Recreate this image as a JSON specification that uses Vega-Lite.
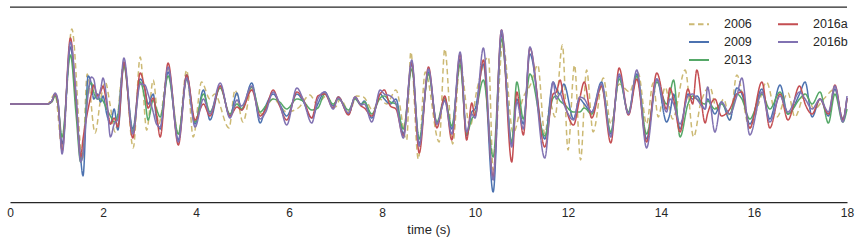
{
"$schema": "https://vega.github.io/schema/vega-lite/v6.json",
"width": 837, "height": 195,
"autosize": {"type": "none"},
"padding": {"left": 10, "top": 7, "right": 13, "bottom": 42},
"background": "white",
"config": {
  "view": {"stroke": null},
  "font": "Liberation Sans",
  "legend": {"orient": "none", "legendX": 678, "legendY": 6, "columns": 2, "symbolType": "stroke", "symbolSize": 400, "symbolStrokeWidth": 2, "labelFontSize": 12.5, "labelColor": "#262626", "labelOffset": 14, "rowPadding": -2, "columnPadding": 22, "padding": 0}
},
"datasets": {
"tan": [
{"t":0,"2006":0},{"t":0.8,"2006":0},{"t":0.97,"2006":10},{"t":1.12,"2006":-45},{"t":1.33,"2006":75},{"t":1.56,"2006":-56},{"t":1.66,"2006":30},{"t":1.83,"2006":-29},{"t":1.95,"2006":5},{"t":2.05,"2006":22},{"t":2.15,"2006":0},{"t":2.26,"2006":-28},{"t":2.45,"2006":42},{"t":2.65,"2006":-44},{"t":2.8,"2006":47},{"t":2.94,"2006":-26},{"t":3.08,"2006":24},{"t":3.2,"2006":-20},{"t":3.4,"2006":35},{"t":3.62,"2006":-30},{"t":3.8,"2006":34},{"t":3.94,"2006":-33},{"t":4.12,"2006":22},{"t":4.3,"2006":5},{"t":4.4,"2006":10},{"t":4.71,"2006":-24},{"t":4.84,"2006":14},{"t":5.01,"2006":-18},{"t":5.2,"2006":15},{"t":5.4,"2006":-10},{"t":5.66,"2006":5},{"t":5.95,"2006":-8},{"t":6.2,"2006":-4},{"t":6.45,"2006":9},{"t":6.6,"2006":0},{"t":6.8,"2006":8},{"t":7.0,"2006":-3},{"t":7.1,"2006":5},{"t":7.3,"2006":-8},{"t":7.45,"2006":8},{"t":7.6,"2006":7},{"t":7.8,"2006":-6},{"t":7.95,"2006":5},{"t":8.1,"2006":0},{"t":8.3,"2006":14},{"t":8.53,"2006":-36},{"t":8.62,"2006":52},{"t":8.78,"2006":-55},{"t":8.93,"2006":32},{"t":9.23,"2006":-38},{"t":9.35,"2006":55},{"t":9.52,"2006":-40},{"t":9.68,"2006":41},{"t":9.89,"2006":-23},{"t":10.04,"2006":14},{"t":10.29,"2006":47},{"t":10.39,"2006":-66},{"t":10.6,"2006":61},{"t":10.82,"2006":-29},{"t":11.04,"2006":7},{"t":11.2,"2006":20},{"t":11.35,"2006":39},{"t":11.5,"2006":-30},{"t":11.62,"2006":0},{"t":11.72,"2006":-13},{"t":11.88,"2006":59},{"t":12.0,"2006":-46},{"t":12.14,"2006":39},{"t":12.27,"2006":-56},{"t":12.4,"2006":34},{"t":12.54,"2006":-28},{"t":12.76,"2006":26},{"t":12.92,"2006":-20},{"t":13.1,"2006":20},{"t":13.33,"2006":12},{"t":13.4,"2006":20},{"t":13.51,"2006":31},{"t":13.69,"2006":-20},{"t":13.83,"2006":21},{"t":13.94,"2006":-13},{"t":14.09,"2006":17},{"t":14.25,"2006":-15},{"t":14.52,"2006":34},{"t":14.7,"2006":-33},{"t":14.85,"2006":0},{"t":15.05,"2006":17},{"t":15.2,"2006":-5},{"t":15.35,"2006":5},{"t":15.48,"2006":-16},{"t":15.63,"2006":29},{"t":15.91,"2006":-24},{"t":16.1,"2006":0},{"t":16.27,"2006":22},{"t":16.49,"2006":-13},{"t":16.73,"2006":11},{"t":16.88,"2006":-13},{"t":17.1,"2006":10},{"t":17.3,"2006":-5},{"t":17.5,"2006":5},{"t":17.74,"2006":15},{"t":17.91,"2006":-15},{"t":18.0,"2006":5}
],
"main": [
{"t":0,"2009":0,"2013":0,"2016a":0,"2016b":0},
{"t":0.8,"2009":0,"2013":0,"2016a":0,"2016b":0},
{"t":0.9,"2009":3,"2013":2,"2016a":3,"2016b":3},
{"t":0.97,"2009":10,"2013":8,"2016a":10,"2016b":11},
{"t":1.03,"2009":2,"2013":0,"2016a":2,"2016b":4},
{"t":1.12,"2009":-40,"2013":-33,"2016a":-47,"2016b":-50},
{"t":1.3,"2009":57,"2013":49,"2016a":66,"2016b":62},
{"t":1.42,"2009":0,"2013":-10,"2016a":5,"2016b":10},
{"t":1.52,"2009":-55,"2013":-58,"2016a":-53,"2016b":-58},
{"t":1.57,"2009":-72,"2013":-48,"2016a":-35,"2016b":-50},
{"t":1.68,"2009":28,"2013":15,"2016a":-5,"2016b":10},
{"t":1.75,"2009":20,"2013":21,"2016a":10,"2016b":27},
{"t":1.8,"2009":5,"2013":12,"2016a":19,"2016b":25},
{"t":1.88,"2009":10,"2013":5,"2016a":8,"2016b":5},
{"t":1.95,"2009":2,"2013":5,"2016a":12,"2016b":15},
{"t":2.0,"2009":8,"2013":3,"2016a":18,"2016b":26},
{"t":2.08,"2009":-10,"2013":-5,"2016a":0,"2016b":5},
{"t":2.16,"2009":-20,"2013":-12,"2016a":-20,"2016b":-33},
{"t":2.24,"2009":-5,"2013":-18,"2016a":-14,"2016b":-20},
{"t":2.32,"2009":-26,"2013":-10,"2016a":-23,"2016b":-15},
{"t":2.45,"2009":40,"2013":38,"2016a":42,"2016b":46},
{"t":2.64,"2009":-25,"2013":-28,"2016a":-34,"2016b":-30},
{"t":2.8,"2009":25,"2013":22,"2016a":31,"2016b":20},
{"t":2.9,"2009":15,"2013":5,"2016a":15,"2016b":19},
{"t":2.97,"2009":0,"2013":-16,"2016a":-4,"2016b":10},
{"t":3.08,"2009":10,"2013":4,"2016a":6,"2016b":-8},
{"t":3.15,"2009":-15,"2013":-5,"2016a":-10,"2016b":-20},
{"t":3.23,"2009":-25,"2013":-13,"2016a":-33,"2016b":-23},
{"t":3.4,"2009":32,"2013":28,"2016a":41,"2016b":37},
{"t":3.62,"2009":-36,"2013":-30,"2016a":-41,"2016b":-38},
{"t":3.8,"2009":29,"2013":25,"2016a":29,"2016b":26},
{"t":3.98,"2009":-20,"2013":-18,"2016a":-16,"2016b":-23},
{"t":4.16,"2009":14,"2013":10,"2016a":0,"2016b":5},
{"t":4.3,"2009":-16,"2013":-8,"2016a":-12,"2016b":-10},
{"t":4.52,"2009":18,"2013":16,"2016a":18,"2016b":21},
{"t":4.73,"2009":-12,"2013":-10,"2016a":-12,"2016b":-14},
{"t":4.88,"2009":11,"2013":0,"2016a":-3,"2016b":4},
{"t":4.98,"2009":-6,"2013":-5,"2016a":-6,"2016b":-2},
{"t":5.2,"2009":21,"2013":17,"2016a":14,"2016b":18},
{"t":5.38,"2009":-19,"2013":-8,"2016a":-12,"2016b":-15},
{"t":5.5,"2009":-2,"2013":-2,"2016a":-5,"2016b":-8},
{"t":5.66,"2009":10,"2013":5,"2016a":14,"2016b":12},
{"t":5.8,"2009":0,"2013":2,"2016a":-2,"2016b":0},
{"t":5.95,"2009":-12,"2013":-5,"2016a":-16,"2016b":-21},
{"t":6.17,"2009":10,"2013":5,"2016a":12,"2016b":16},
{"t":6.3,"2009":3,"2013":3,"2016a":5,"2016b":5},
{"t":6.49,"2009":-14,"2013":-6,"2016a":-14,"2016b":-19},
{"t":6.62,"2009":0,"2013":-4,"2016a":8,"2016b":5},
{"t":6.77,"2009":12,"2013":10,"2016a":10,"2016b":12},
{"t":6.95,"2009":-2,"2013":0,"2016a":-4,"2016b":-5},
{"t":7.06,"2009":7,"2013":5,"2016a":7,"2016b":6},
{"t":7.28,"2009":-10,"2013":-6,"2016a":-11,"2016b":-9},
{"t":7.42,"2009":6,"2013":5,"2016a":7,"2016b":7},
{"t":7.55,"2009":0,"2013":-1,"2016a":-2,"2016b":-1},
{"t":7.62,"2009":3,"2013":2,"2016a":-4,"2016b":0},
{"t":7.78,"2009":-14,"2013":-10,"2016a":-12,"2016b":-18},
{"t":7.96,"2009":10,"2013":6,"2016a":10,"2016b":14},
{"t":8.05,"2009":5,"2013":8,"2016a":14,"2016b":10},
{"t":8.18,"2009":0,"2013":2,"2016a":-2,"2016b":8},
{"t":8.3,"2009":5,"2013":0,"2016a":-5,"2016b":0},
{"t":8.46,"2009":-30,"2013":-25,"2016a":-32,"2016b":-34},
{"t":8.64,"2009":40,"2013":35,"2016a":42,"2016b":44},
{"t":8.8,"2009":-40,"2013":-35,"2016a":-49,"2016b":-42},
{"t":9.0,"2009":32,"2013":30,"2016a":37,"2016b":35},
{"t":9.18,"2009":-20,"2013":-18,"2016a":-24,"2016b":-20},
{"t":9.35,"2009":4,"2013":6,"2016a":8,"2016b":3},
{"t":9.5,"2009":-25,"2013":-22,"2016a":-36,"2016b":-30},
{"t":9.68,"2009":45,"2013":39,"2016a":50,"2016b":52},
{"t":9.82,"2009":-32,"2013":-30,"2016a":-36,"2016b":-28},
{"t":9.93,"2009":-8,"2013":-15,"2016a":1,"2016b":-10},
{"t":10.0,"2009":-5,"2013":-10,"2016a":-12,"2016b":-14},
{"t":10.18,"2009":40,"2013":24,"2016a":44,"2016b":56},
{"t":10.39,"2009":-88,"2013":-53,"2016a":-73,"2016b":-76},
{"t":10.57,"2009":70,"2013":65,"2016a":74,"2016b":74},
{"t":10.79,"2009":-40,"2013":-38,"2016a":-58,"2016b":-43},
{"t":10.9,"2009":5,"2013":22,"2016a":12,"2016b":2},
{"t":11.04,"2009":-20,"2013":-15,"2016a":-31,"2016b":-25},
{"t":11.18,"2009":50,"2013":30,"2016a":56,"2016b":57},
{"t":11.5,"2009":-35,"2013":-32,"2016a":-43,"2016b":-54},
{"t":11.68,"2009":22,"2013":6,"2016a":10,"2016b":22},
{"t":11.75,"2009":15,"2013":8,"2016a":12,"2016b":5},
{"t":11.83,"2009":10,"2013":3,"2016a":24,"2016b":10},
{"t":11.91,"2009":20,"2013":0,"2016a":5,"2016b":0},
{"t":12.12,"2009":-15,"2013":-8,"2016a":-21,"2016b":-16},
{"t":12.25,"2009":5,"2013":-8,"2016a":5,"2016b":7},
{"t":12.35,"2009":0,"2013":-4,"2016a":22,"2016b":5},
{"t":12.51,"2009":-8,"2013":-10,"2016a":-14,"2016b":-8},
{"t":12.72,"2009":22,"2013":18,"2016a":18,"2016b":20},
{"t":12.92,"2009":-30,"2013":-28,"2016a":-39,"2016b":-33},
{"t":13.1,"2009":28,"2013":25,"2016a":36,"2016b":30},
{"t":13.3,"2009":-10,"2013":-8,"2016a":-11,"2016b":-10},
{"t":13.48,"2009":30,"2013":28,"2016a":25,"2016b":34},
{"t":13.69,"2009":-35,"2013":-30,"2016a":-38,"2016b":-44},
{"t":13.91,"2009":25,"2013":22,"2016a":31,"2016b":25},
{"t":14.12,"2009":-18,"2013":0,"2016a":-5,"2016b":-8},
{"t":14.19,"2009":-10,"2013":10,"2016a":16,"2016b":5},
{"t":14.27,"2009":10,"2013":24,"2016a":5,"2016b":0},
{"t":14.41,"2009":-25,"2013":-33,"2016a":-28,"2016b":-20},
{"t":14.58,"2009":10,"2013":0,"2016a":15,"2016b":8},
{"t":14.68,"2009":5,"2013":8,"2016a":0,"2016b":10},
{"t":14.77,"2009":8,"2013":5,"2016a":34,"2016b":5},
{"t":14.95,"2009":-5,"2013":0,"2016a":-19,"2016b":-5},
{"t":15.0,"2009":5,"2013":3,"2016a":-10,"2016b":17},
{"t":15.16,"2009":-10,"2013":-5,"2016a":5,"2016b":-28},
{"t":15.3,"2009":2,"2013":0,"2016a":-12,"2016b":2},
{"t":15.48,"2009":-16,"2013":-10,"2016a":-5,"2016b":-10},
{"t":15.63,"2009":16,"2013":10,"2016a":10,"2016b":8},
{"t":15.74,"2009":10,"2013":5,"2016a":12,"2016b":26},
{"t":15.91,"2009":-20,"2013":-15,"2016a":-24,"2016b":-31},
{"t":16.17,"2009":15,"2013":10,"2016a":22,"2016b":12},
{"t":16.34,"2009":-15,"2013":-5,"2016a":-24,"2016b":-18},
{"t":16.56,"2009":19,"2013":12,"2016a":10,"2016b":8},
{"t":16.73,"2009":-10,"2013":-10,"2016a":-16,"2016b":-8},
{"t":16.98,"2009":10,"2013":5,"2016a":18,"2016b":12},
{"t":17.1,"2009":22,"2013":10,"2016a":0,"2016b":5},
{"t":17.25,"2009":-13,"2013":0,"2016a":-10,"2016b":-5},
{"t":17.42,"2009":5,"2013":12,"2016a":5,"2016b":5},
{"t":17.6,"2009":-12,"2013":-19,"2016a":-10,"2016b":-8},
{"t":17.74,"2009":15,"2013":10,"2016a":19,"2016b":18},
{"t":17.91,"2009":-15,"2013":-18,"2016a":-16,"2016b":-18},
{"t":18.0,"2009":6,"2013":-5,"2016a":6,"2016b":8}
]
},
"encoding": {
  "x": {"field": "t", "type": "quantitative", "title": "time (s)",
        "scale": {"domain": [0, 18], "nice": false, "zero": false},
        "axis": {"values": [0,2,4,6,8,10,12,14,16,18], "grid": false, "ticks": false, "labelFlush": false,
                 "domainColor": "#262626", "domainWidth": 1.25, "labelFontSize": 12, "labelColor": "#262626",
                 "labelPadding": 5, "titleFontSize": 13, "titleFontWeight": "normal", "titleColor": "#262626", "titlePadding": 5}},
  "y": {"field": "v", "type": "quantitative", "scale": {"domain": [-98, 97], "nice": false, "zero": false}, "axis": null}
},
"layer": [
  {
    "data": {"name": "tan"},
    "transform": [{"fold": ["2006"], "as": ["s", "v"]}],
    "mark": {"type": "line", "strokeWidth": 1.5, "interpolate": "monotone"},
    "encoding": {
      "color": {"field": "s", "type": "nominal", "title": null,
                "scale": {"domain": ["2006","2009","2013","2016a","2016b"], "range": ["#CCB974","#4C72B0","#55A868","#C44E52","#8172B2"]}},
      "strokeDash": {"field": "s", "type": "nominal", "title": null,
                "scale": {"domain": ["2006","2009","2013","2016a","2016b"], "range": [[5.5,3.5],[1,0],[1,0],[1,0],[1,0]]}}
    }
  },
  {
    "data": {"name": "main"},
    "transform": [{"fold": ["2009","2013","2016a","2016b"], "as": ["s", "v"]}],
    "mark": {"type": "line", "strokeWidth": 1.5, "interpolate": "monotone"},
    "encoding": {
      "color": {"field": "s", "type": "nominal", "title": null},
      "strokeDash": {"field": "s", "type": "nominal", "title": null}
    }
  },
  {
    "data": {"values": [{"top": 97}]},
    "mark": {"type": "rule", "color": "#262626", "strokeWidth": 1.25},
    "encoding": {"y": {"field": "top", "type": "quantitative"}, "x": null}
  }
]
}
